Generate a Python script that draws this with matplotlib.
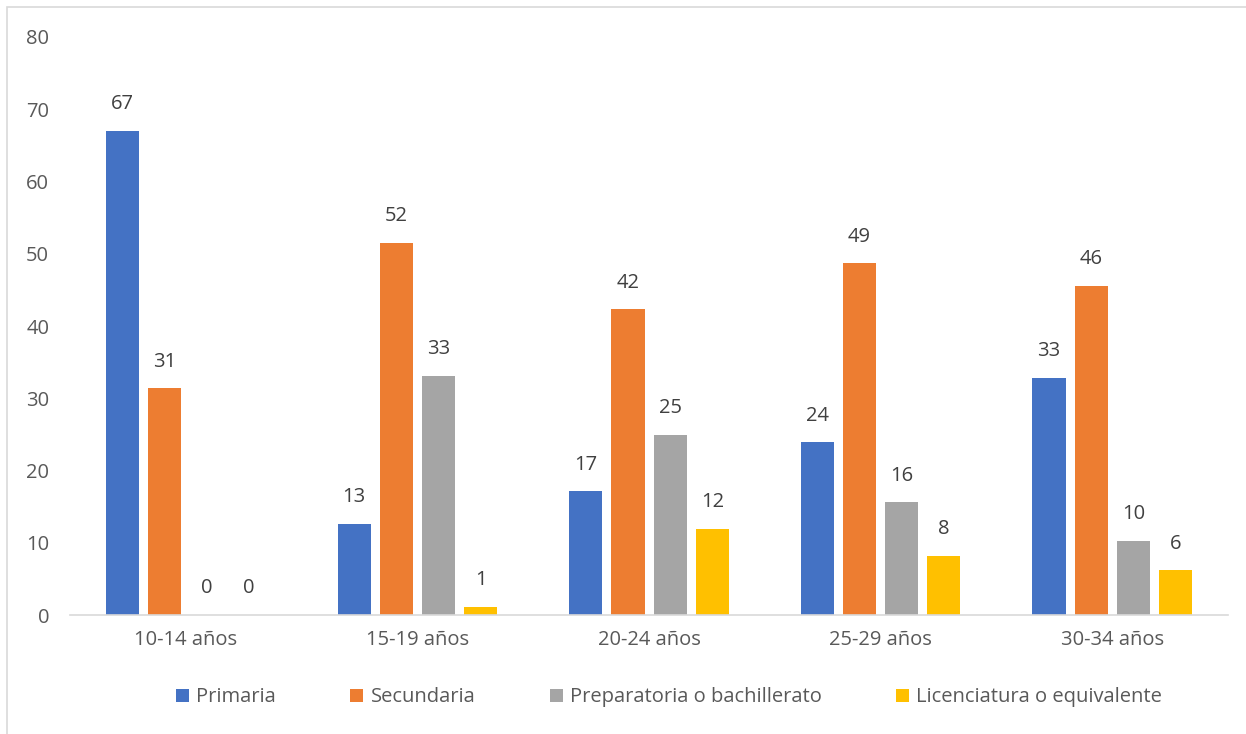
import numpy as np
import matplotlib.pyplot as plt
from matplotlib.patches import Rectangle

# values
grupos = ['10-14 años', '15-19 años', '20-24 años', '25-29 años', '30-34 años']
primaria = [67.0, 12.6, 17.1, 23.9, 32.8]
secundaria = [31.4, 51.5, 42.3, 48.7, 45.6]
preparatoria = [0.0, 33.1, 24.9, 15.6, 10.3]
licenciatura = [0.0, 1.1, 11.9, 8.2, 6.2]
series_names = ['Primaria', 'Secundaria', 'Preparatoria o bachillerato',
                'Licenciatura o equivalente']
colores = ['#4472C4', '#ED7D31', '#A5A5A5', '#FFC000']

plt.rcParams['font.family'] = ['Open Sans', 'DejaVu Sans']

fig = plt.figure(figsize=(12.46, 7.34), dpi=100)
ax = fig.add_axes([0.0562, 0.1621, 0.9294, 0.7875])

x = np.arange(len(grupos))
width = 0.143
step = 0.182
handles = []
for i, (vals, name, col) in enumerate(zip(
        [primaria, secundaria, preparatoria, licenciatura], series_names, colores)):
    pos = x + (i - 1.5) * step
    bars = ax.bar(pos, vals, width, color=col, label=name)
    handles.append(bars)
    for p, v in zip(pos, vals):
        ax.text(p, v + 2.3, '{0:.0f}'.format(v), ha='center', va='bottom',
                fontsize=14.5, color='#404040')

ax.set_xlim(-0.5, len(grupos) - 0.5)
ax.set_ylim(0, 80)
ax.set_yticks(range(0, 81, 10))
ax.set_xticks(x)
ax.set_xticklabels(grupos)
ax.tick_params(axis='both', length=0, labelsize=14.5, colors='#595959')
ax.tick_params(axis='y', pad=15)
ax.tick_params(axis='x', pad=11)
for s in ['top', 'right', 'left']:
    ax.spines[s].set_visible(False)
ax.spines['bottom'].set_color('#D9D9D9')
ax.spines['bottom'].set_linewidth(1.2)

fig.legend(handles, series_names, loc='center', bbox_to_anchor=(0.537, 0.05),
           ncol=4, frameon=False, fontsize=14.5, handlelength=0.65, handleheight=0.65,
           handletextpad=0.35, columnspacing=3.7, labelcolor='#595959')

# chart area border
fig.patches.append(Rectangle((7 / 1246, -0.1), 1.2, 1 - 7 / 734 + 0.1,
                             transform=fig.transFigure, fill=False,
                             edgecolor='#D9D9D9', linewidth=1.2))

plt.savefig('out.png', dpi=100)
